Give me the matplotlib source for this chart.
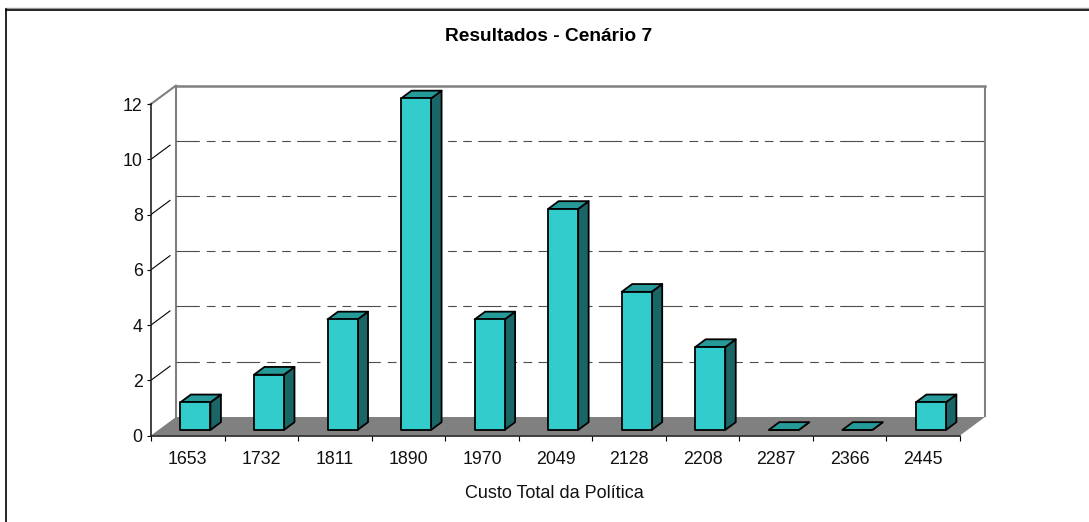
import matplotlib
matplotlib.use('Agg')
import matplotlib.pyplot as plt
from matplotlib.lines import Line2D
from matplotlib.patches import Polygon

plt.rcParams['font.family'] = ['Liberation Sans', 'DejaVu Sans']

custo = ['1653', '1732', '1811', '1890', '1970', '2049', '2128', '2208', '2287', '2366', '2445']
frequencia = [1, 2, 4, 12, 4, 8, 5, 3, 0, 0, 1]
y_ticks = [0, 2, 4, 6, 8, 10, 12]

W, H = 1089, 522
depth_x = 0.34     # 3D depth, in category units
depth_y = 0.67     # 3D depth, in value units
bar_w = 0.408
bar_start = 0.298
bar_z0 = 0.3       # bar front, as a fraction of the depth
bar_z1 = 0.72      # bar back

fig = plt.figure(figsize=(W / 100, H / 100), dpi=100)
ax = fig.add_axes([151 / W, 1 - 435.5 / H, 834 / W, 350 / H])
ax.set_xlim(0, len(custo) + depth_x)
ax.set_ylim(0, 12 + depth_y)
ax.patch.set_visible(False)

# outer frame, only the top and left sides
fig.add_artist(Line2D([6 / W, 1], [1 - 8 / H, 1 - 8 / H], color='#999999', lw=1))
fig.add_artist(Line2D([6 / W, 1], [1 - 9.5 / H, 1 - 9.5 / H], color='black', lw=1.2))
fig.add_artist(Line2D([6 / W, 6 / W], [0, 1 - 9 / H], color='black', lw=1.2))

n = len(custo)
wall = '#808080'

# floor
ax.add_patch(Polygon([(0, 0), (n, 0), (n + depth_x, depth_y), (depth_x, depth_y)],
                     closed=True, facecolor=wall, edgecolor='none', zorder=1))

# back wall outline
ax.plot([0, depth_x, depth_x], [12, 12 + depth_y, depth_y],
        color=wall, lw=1.5, zorder=1, clip_on=False)
ax.plot([n + depth_x, n + depth_x], [depth_y, 12 + depth_y],
        color=wall, lw=1.5, zorder=1, clip_on=False, solid_capstyle='butt')
ax.plot([depth_x, n + depth_x], [12 + depth_y, 12 + depth_y],
        color=wall, lw=1.8, zorder=1, clip_on=False)

# dashed gridlines on the back wall, short diagonals on the side wall
for v in y_ticks[1:-1]:
    ax.plot([depth_x, n + depth_x], [v + depth_y, v + depth_y], color='#4d4d4d', lw=0.8,
            linestyle=(0, (21, 6.3, 7.8, 5.7, 7.8, 5.7)), zorder=2)
    ax.plot([0, depth_x * 0.76], [v, v + depth_y * 0.76], color='black', lw=0.8, zorder=2)

# 3D columns: side, top and front faces
for i, v in enumerate(frequencia):
    x0 = i + bar_start + bar_z0 * depth_x
    x1 = x0 + bar_w
    y0 = bar_z0 * depth_y
    y1 = y0 + v
    ox = (bar_z1 - bar_z0) * depth_x
    oy = (bar_z1 - bar_z0) * depth_y
    ax.add_patch(Polygon([(x1, y0), (x1 + ox, y0 + oy), (x1 + ox, y1 + oy), (x1, y1)], closed=True,
                         facecolor='#1A6666', edgecolor='black', lw=1.3, zorder=3, joinstyle='round'))
    ax.add_patch(Polygon([(x0, y1), (x1, y1), (x1 + ox, y1 + oy), (x0 + ox, y1 + oy)], closed=True,
                         facecolor='#269999', edgecolor='black', lw=1.3, zorder=3, joinstyle='round'))
    ax.add_patch(Polygon([(x0, y0), (x1, y0), (x1, y1), (x0, y1)], closed=True,
                         facecolor='#33CCCC', edgecolor='black', lw=1.3, zorder=4, joinstyle='round'))

# axes
for side in ['top', 'right']:
    ax.spines[side].set_visible(False)
ax.spines['left'].set_bounds(0, 12)
ax.spines['bottom'].set_bounds(0, n)
for side in ['left', 'bottom']:
    ax.spines[side].set_linewidth(1.2)
    ax.spines[side].set_color('#222222')
    ax.spines[side].set_zorder(5)

ax.set_yticks(y_ticks)
ax.set_yticklabels([str(v) for v in y_ticks])
ax.tick_params(axis='y', length=3, width=0.8, pad=3, labelsize=12.8, labelcolor='#111111')

ax.set_xticks(range(n + 1))
ax.set_xticklabels([])
ax.set_xticks([i + 0.5 for i in range(n)], minor=True)
ax.set_xticklabels(custo, minor=True)
ax.tick_params(axis='x', which='major', length=3.6, width=0.8)
ax.tick_params(axis='x', which='minor', length=0, pad=11, labelsize=12.8, labelcolor='#111111')

fig.text(554.5 / W, 1 - 493.5 / H, 'Custo Total da Política', ha='center', va='center',
         fontsize=13, color='#111111')
fig.text(549 / W, 1 - 36.5 / H, 'Resultados - Cenário 7', ha='center', va='center',
         fontsize=13.8, fontweight='bold', color='black')

fig.savefig('out.png', dpi=100)
